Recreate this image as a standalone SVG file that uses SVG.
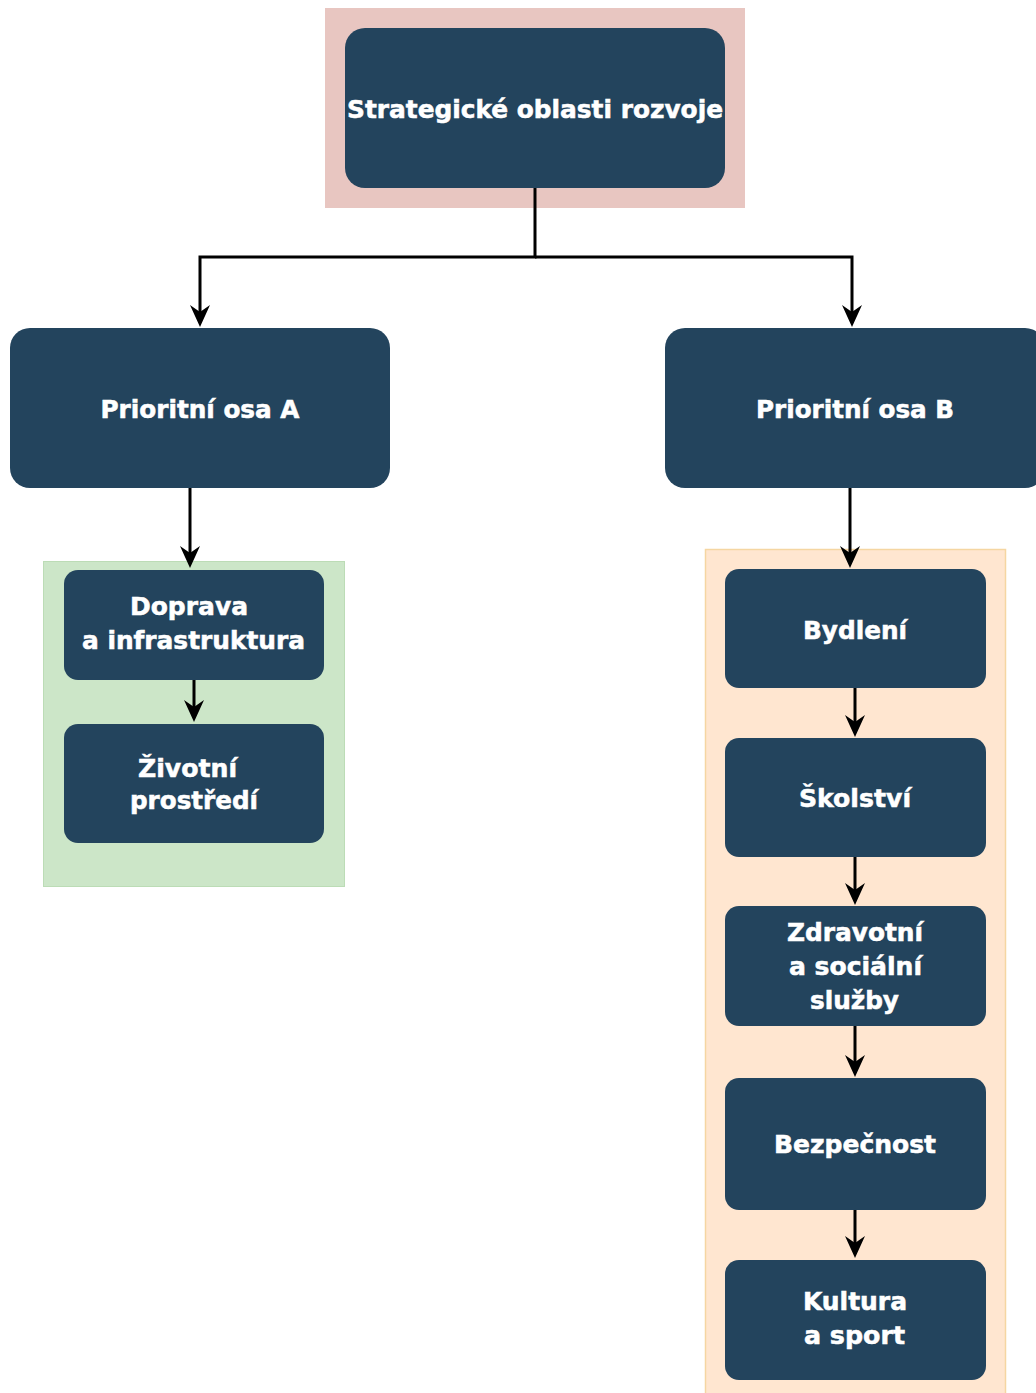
<svg xmlns="http://www.w3.org/2000/svg" width="1036" height="1393" viewBox="0 0 1036 1393">
<style>
.node{fill:#23445d;}
.lbl{fill:#ffffff;stroke:#ffffff;stroke-width:0.5;font-family:"DejaVu Sans Condensed","DejaVu Sans",Verdana,sans-serif;font-weight:bold;font-size:25px;text-anchor:middle;}
.edge{fill:none;stroke:#000000;stroke-width:3;}
</style>
<defs>
<marker id="arr" markerUnits="userSpaceOnUse" markerWidth="24" markerHeight="22" viewBox="0 0 24 22" refX="13" refY="11" orient="auto">
<path d="M0,1 L22,11 L0,21 L7,11 Z" fill="#000000"/>
</marker>
</defs>
<rect width="1036" height="1393" fill="#ffffff"/>
<g id="backgrounds">
<rect x="325" y="8" width="420" height="200" fill="#e8c6c1"/>
<rect x="43.5" y="561.5" width="301" height="325" fill="#cce6c8" stroke="#bcdcb6" stroke-width="1"/>
<rect x="705.5" y="549.5" width="300" height="850" fill="#ffe6d0" stroke="#f5d6a2" stroke-width="1.5"/>
</g>
<g id="connectors">
<path class="edge" d="M535,188 V257 H200 V318" marker-end="url(#arr)"/>
<path class="edge" d="M535,257 H852 V318" marker-end="url(#arr)"/>
<path class="edge" d="M190,488 V559" marker-end="url(#arr)"/>
<path class="edge" d="M194,680 V713" marker-end="url(#arr)"/>
<path class="edge" d="M850,488 V559" marker-end="url(#arr)"/>
<path class="edge" d="M855,688 V728" marker-end="url(#arr)"/>
<path class="edge" d="M855,857 V896" marker-end="url(#arr)"/>
<path class="edge" d="M855,1026 V1068" marker-end="url(#arr)"/>
<path class="edge" d="M855,1210 V1249" marker-end="url(#arr)"/>
</g>
<g id="node-root">
<rect class="node" x="345" y="28" width="380" height="160" rx="20"/>
<text class="lbl" x="535" y="118" textLength="376" lengthAdjust="spacingAndGlyphs">Strategické oblasti rozvoje</text>
</g>
<g id="node-osa-a">
<rect class="node" x="10" y="328" width="380" height="160" rx="20"/>
<text class="lbl" x="200" y="418" textLength="199" lengthAdjust="spacingAndGlyphs">Prioritní osa A</text>
</g>
<g id="node-osa-b">
<rect class="node" x="665" y="328" width="380" height="160" rx="20"/>
<text class="lbl" x="855" y="418" textLength="198" lengthAdjust="spacingAndGlyphs">Prioritní osa B</text>
</g>
<g id="node-doprava">
<rect class="node" x="64" y="570" width="260" height="110" rx="14"/>
<text class="lbl" x="189" y="615" textLength="118" lengthAdjust="spacingAndGlyphs">Doprava</text>
<text class="lbl" x="193.5" y="649" textLength="223" lengthAdjust="spacingAndGlyphs">a infrastruktura</text>
</g>
<g id="node-zivotni">
<rect class="node" x="64" y="724" width="260" height="119" rx="14"/>
<text class="lbl" x="187.5" y="777" textLength="99" lengthAdjust="spacingAndGlyphs">Životní</text>
<text class="lbl" x="194" y="809" textLength="128" lengthAdjust="spacingAndGlyphs">prostředí</text>
</g>
<g id="node-bydleni">
<rect class="node" x="725" y="569" width="261" height="119" rx="14"/>
<text class="lbl" x="855" y="639" textLength="104" lengthAdjust="spacingAndGlyphs">Bydlení</text>
</g>
<g id="node-skolstvi">
<rect class="node" x="725" y="738" width="261" height="119" rx="14"/>
<text class="lbl" x="855" y="807" textLength="112" lengthAdjust="spacingAndGlyphs">Školství</text>
</g>
<g id="node-zdravotni">
<rect class="node" x="725" y="906" width="261" height="120" rx="14"/>
<text class="lbl" x="855" y="941" textLength="136" lengthAdjust="spacingAndGlyphs">Zdravotní</text>
<text class="lbl" x="855.5" y="975" textLength="133" lengthAdjust="spacingAndGlyphs">a sociální</text>
<text class="lbl" x="854.5" y="1009" textLength="89" lengthAdjust="spacingAndGlyphs">služby</text>
</g>
<g id="node-bezpecnost">
<rect class="node" x="725" y="1078" width="261" height="132" rx="14"/>
<text class="lbl" x="855" y="1153" textLength="162" lengthAdjust="spacingAndGlyphs">Bezpečnost</text>
</g>
<g id="node-kultura">
<rect class="node" x="725" y="1260" width="261" height="120" rx="14"/>
<text class="lbl" x="855" y="1310" textLength="104" lengthAdjust="spacingAndGlyphs">Kultura</text>
<text class="lbl" x="854.5" y="1344" textLength="101" lengthAdjust="spacingAndGlyphs">a sport</text>
</g>
</svg>
